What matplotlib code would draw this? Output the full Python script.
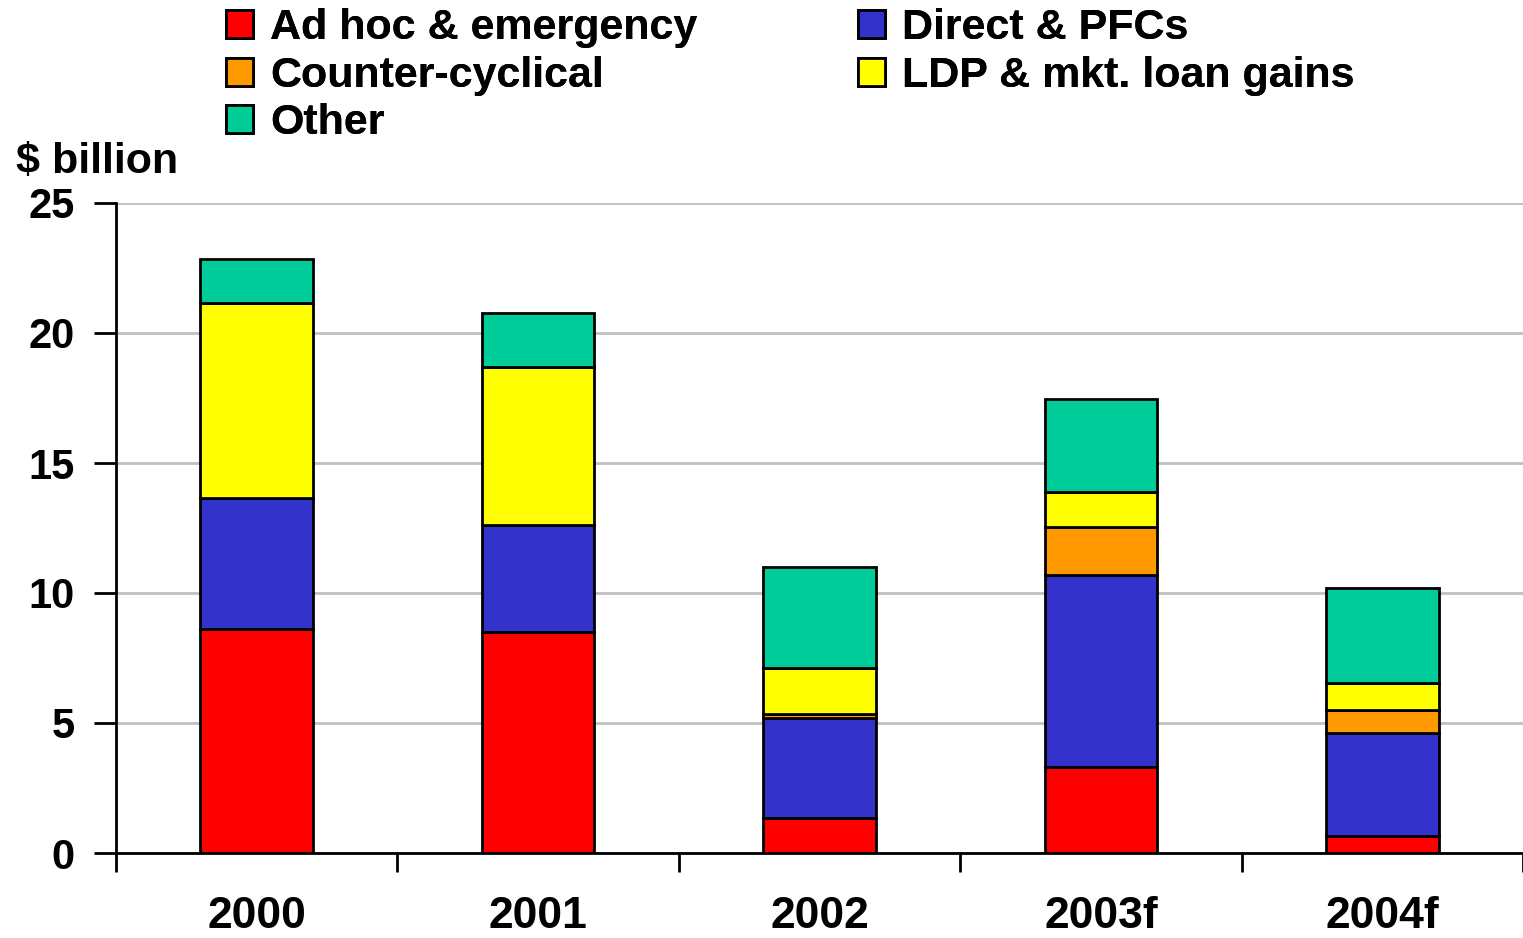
import matplotlib.pyplot as plt
from matplotlib.patches import Patch

plt.rcParams['font.family'] = ['Liberation Sans', 'DejaVu Sans']
plt.rcParams['font.weight'] = 'bold'

# values, $ billion
years = ['2000', '2001', '2002', '2003f', '2004f']
adhoc = [8.6, 8.5, 1.35, 3.3, 0.65]
direct = [5.05, 4.1, 3.85, 7.4, 3.95]
counter = [0.0, 0.0, 0.15, 1.85, 0.9]
ldp = [7.5, 6.1, 1.75, 1.35, 1.05]
other = [1.7, 2.05, 3.9, 3.55, 3.65]

series = [
    ('Ad hoc & emergency', adhoc, '#ff0000'),
    ('Direct & PFCs', direct, '#3333cc'),
    ('Counter-cyclical', counter, '#ff9900'),
    ('LDP & mkt. loan gains', ldp, '#ffff00'),
    ('Other', other, '#00cc99'),
]

fig = plt.figure(figsize=(15.23, 9.38), dpi=100)
ax = fig.add_axes([116/1523, 1 - 853/938, (1523-116)/1523, 650/938])

x = list(range(len(years)))
bottom = [0.0] * len(years)
handles = {}
for name, vals, col in series:
    ax.bar(x, vals, width=0.4, bottom=bottom, color=col, edgecolor='black',
           linewidth=2, zorder=3)
    bottom = [b + v for b, v in zip(bottom, vals)]
    handles[name] = Patch(facecolor=col, edgecolor='black', linewidth=2)

ax.set_xlim(-0.5, 4.5)
ax.set_ylim(0, 25)
ax.set_yticks([0, 5, 10, 15, 20, 25])
ax.yaxis.grid(True, color='#c0c0c0', linewidth=2, zorder=0)
ax.set_axisbelow(True)

ax.set_xticks(x)
ax.set_xticklabels(years, fontsize=32, fontweight='bold')
ax.tick_params(axis='x', length=0, pad=31)
ax.set_xticks([i - 0.5 for i in range(len(years) + 1)], minor=True)
ax.tick_params(axis='x', which='minor', length=14, width=2, direction='out')
ax.tick_params(axis='y', length=16, width=2, labelsize=30, pad=14)
for lab in ax.get_yticklabels():
    lab.set_fontweight('bold')

for s in ['top', 'right']:
    ax.spines[s].set_visible(False)
ax.spines['left'].set_linewidth(2)
ax.spines['bottom'].set_linewidth(2)

fig.text(16/1523, 1 - 162/938, '$ billion', fontsize=31, fontweight='bold',
         va='center', ha='left')

# two legend columns placed separately
cols = [['Ad hoc & emergency', 'Counter-cyclical', 'Other'],
        ['Direct & PFCs', 'LDP & mkt. loan gains']]
lefts = [226, 858]
for names, left in zip(cols, lefts):
    leg = fig.legend([handles[n] for n in names], names,
                     loc='upper left', bbox_to_anchor=(left/1523, 1 - 8/938),
                     frameon=False, prop={'size': 31, 'weight': 'bold'},
                     handlelength=0.62, handleheight=0.62, handletextpad=0.4,
                     labelspacing=0.18, borderpad=0, borderaxespad=0)
    fig.add_artist(leg)

fig.savefig('out.png', dpi=100)
